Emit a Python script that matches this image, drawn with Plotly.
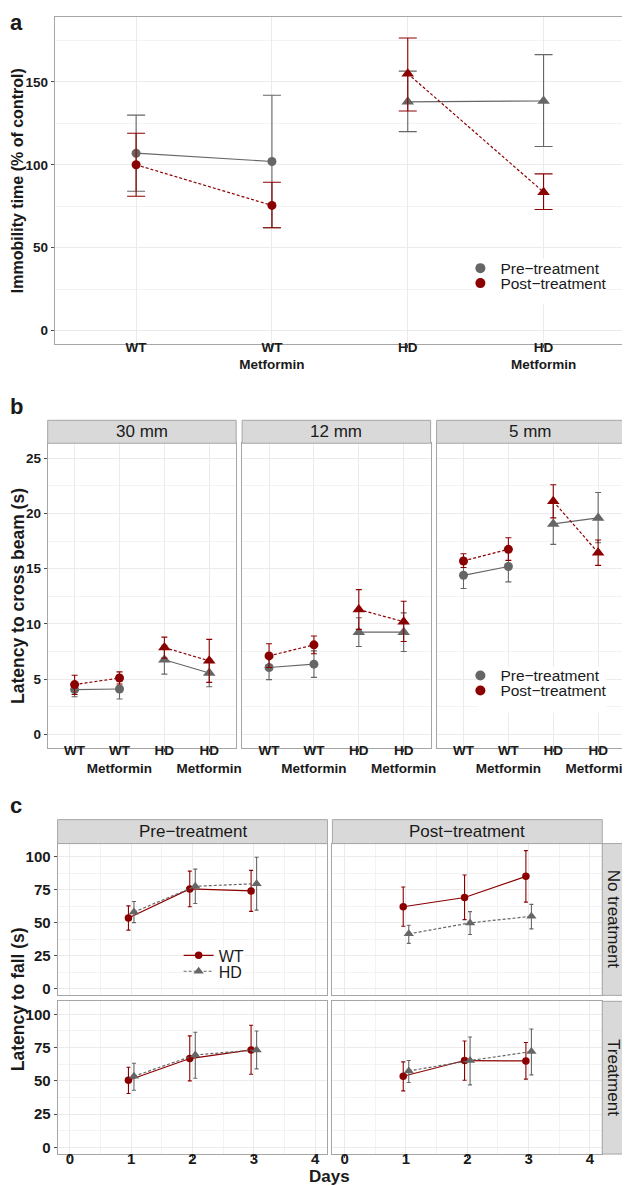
import plotly.graph_objects as go

W, H = 630, 1186
GREY = "#666666"
RED = "#8B0000"
INK = "#1A1A1A"
FRAME = "#A6A6A6"
GRID = "#EBEBEB"
GRID_MINOR = "#F3F3F3"
FONT = "Liberation Sans"

# ---------------- data ----------------
groups = ["WT", "WT<br>Metformin", "HD", "HD<br>Metformin"]
phases = ["Pre−treatment", "Post−treatment"]

# a) immobility time (% of control): mean, lower and upper error bar ends
a_pre = [107, 102, 138, 138.5]
a_pre_lo = [84, 62, 120, 111]
a_pre_hi = [130, 142, 156.5, 166.5]
a_post = [100, 75.5, 155, 83.5]
a_post_lo = [81, 62, 132.5, 73]
a_post_hi = [119, 89.5, 176.5, 94.5]

# b) latency to cross beam (s), one row per beam width
beams = ["30 mm", "12 mm", "5 mm"]
b_pre = [[4.05, 4.1, 6.75, 5.55], [6.05, 6.35, 9.25, 9.25], [14.4, 15.2, 19.05, 19.6]]
b_pre_lo = [[3.4, 3.2, 5.45, 4.3], [4.95, 5.15, 7.95, 7.5], [13.2, 13.8, 17.2, 17.35]]
b_pre_hi = [[4.7, 5.0, 8.05, 6.8], [7.15, 7.55, 10.55, 11.0], [15.55, 16.65, 20.9, 21.9]]
b_post = [[4.5, 5.1, 7.85, 6.65], [7.1, 8.1, 11.3, 10.2], [15.7, 16.75, 21.1, 16.45]]
b_post_lo = [[3.6, 4.55, 6.9, 4.7], [6.05, 7.3, 9.5, 8.4], [15.1, 15.75, 19.6, 15.3]]
b_post_hi = [[5.35, 5.65, 8.8, 8.6], [8.2, 8.9, 13.1, 12.05], [16.35, 17.8, 22.6, 17.6]]

# c) latency to fall (s); indexed [row][col]
days = [1, 2, 3]
c_cols = ["Pre−treatment", "Post−treatment"]
c_rows = ["No treatment", "Treatment"]
c_wt = [[[53.5, 75.5, 74], [62, 69, 85]], [[50.5, 66.8, 73.3], [53.5, 65.3, 65]]]
c_wt_lo = [[[44.3, 62, 58.5], [47.3, 52.3, 65.5]], [[40.5, 50, 55], [42.5, 50.5, 51.3]]]
c_wt_hi = [[[62.7, 89, 89.5], [77, 86, 104.5]], [[60.3, 83.8, 91.8], [64.3, 80, 78.8]]]
c_hd = [[[58, 77.5, 79.5], [41.5, 49.8, 54.8]], [[53.5, 69.5, 73.3], [57.5, 65.3, 72]]]
c_hd_lo = [[[50, 64.5, 59.5], [34.3, 41, 45.3]], [[43, 52, 59], [48.8, 47, 54.5]]]
c_hd_hi = [[[66, 90.5, 99.5], [48, 58.3, 63.8]], [[63.3, 86.5, 87.5], [65.3, 83, 89]]]
genotypes = ["WT", "HD"]
dodge = 0.045


def fx(px):
    return px / W


def fy(px):
    return 1 - px / H


def series(x, y, lo, hi, color, dash, symbol, size, cap, xa, ya):
    return go.Scatter(
        x=x, y=y, mode="lines+markers", xaxis=xa, yaxis=ya,
        line=dict(color=color, width=1.2, dash=dash),
        marker=dict(color=color, size=size, symbol=symbol),
        error_y=dict(type="data", symmetric=False,
                     array=[h - v for h, v in zip(hi, y)],
                     arrayminus=[v - l for v, l in zip(y, lo)],
                     color=color, thickness=1.1, width=cap),
        showlegend=False, hoverinfo="skip",
    )


def axis(domain, anchor, size=13.5, **kw):
    d = dict(domain=domain, anchor=anchor, showline=True, mirror=True,
             linecolor=FRAME, linewidth=1, showgrid=True, gridcolor=GRID,
             gridwidth=1, zeroline=False, ticks="outside", ticklen=3,
             tickwidth=1, tickcolor="#4D4D4D", fixedrange=True, tickangle=0,
             tickfont=dict(family=FONT, size=size, color=INK, weight="bold"))
    d.update(kw)
    return d


def note(text, xpx, ypx, size, weight="normal", angle=0, xanchor="center"):
    return dict(text=text, x=fx(xpx), y=fy(ypx), xref="paper", yref="paper",
                xanchor=xanchor, yanchor="middle", showarrow=False,
                textangle=angle,
                font=dict(family=FONT, size=size, color=INK, weight=weight))


fig = go.Figure()
layout = {}
shapes = []
notes = []

DOTTED = "3px,2px"
pairs = [(slice(0, 2), "circle"), (slice(2, 4), "triangle-up")]

# ---------- panel a ----------
for vals, lo, hi, color, dash in [(a_pre, a_pre_lo, a_pre_hi, GREY, "solid"),
                                  (a_post, a_post_lo, a_post_hi, RED, DOTTED)]:
    for sl, sym in pairs:
        fig.add_trace(series(groups[sl], vals[sl], lo[sl], hi[sl], color, dash,
                             sym, 9 if sym == "circle" else 11, 9, "x", "y"))

layout["xaxis"] = axis([fx(47), fx(622)], "y", type="category",
                       categoryorder="array", categoryarray=groups,
                       range=[-0.6, 3.6], ticklabelstandoff=-13)
layout["yaxis"] = axis([fy(337), fy(9)], "x", range=[-8.4, 189.2], dtick=50,
                       tick0=0, minor=dict(dtick=25, showgrid=True,
                                           gridcolor=GRID_MINOR, gridwidth=0.8))

# ---------- panel b ----------
b_x = [(40, 230), (236, 426), (432, 622)]
for i, beam in enumerate(beams):
    n = i + 2
    for vals, lo, hi, color, dash in [(b_pre, b_pre_lo, b_pre_hi, GREY, "solid"),
                                      (b_post, b_post_lo, b_post_hi, RED, DOTTED)]:
        for sl, sym in pairs:
            fig.add_trace(series(groups[sl], vals[i][sl], lo[i][sl], hi[i][sl],
                                 color, dash, sym, 9 if sym == "circle" else 11,
                                 3, f"x{n}", f"y{n}"))
    left, right = b_x[i]
    layout[f"xaxis{n}"] = axis([fx(left), fx(right)], f"y{n}", type="category",
                               categoryorder="array", categoryarray=groups,
                               range=[-0.6, 3.6], ticklabelstandoff=-13)
    extra = {} if i == 0 else dict(showticklabels=False, ticks="")
    layout[f"yaxis{n}"] = axis([fy(741), fy(436)], f"x{n}", range=[-1.22, 26.36],
                               dtick=5, tick0=0,
                               minor=dict(dtick=2.5, showgrid=True,
                                          gridcolor=GRID_MINOR, gridwidth=0.8),
                               **extra)
    shapes.append(dict(type="rect", xref="paper", yref="paper",
                       x0=fx(left), x1=fx(right), y0=fy(436), y1=fy(413),
                       fillcolor="#D9D9D9", line=dict(color=FRAME, width=1)))
    notes.append(note(beam, (left + right) / 2, 424.5, 17))

# ---------- panel c ----------
c_x = [(50, 322), (327, 599)]
c_y = [(837, 989), (995, 1148)]
for r in range(2):
    for c in range(2):
        n = 5 + r * 2 + c
        xa, ya = f"x{n}", f"y{n}"
        wt = series([d - dodge for d in days], c_wt[r][c], c_wt_lo[r][c],
                    c_wt_hi[r][c], RED, "solid", "circle", 7.5, 2, xa, ya)
        hd = series([d + dodge for d in days], c_hd[r][c], c_hd_lo[r][c],
                    c_hd_hi[r][c], GREY, DOTTED, "triangle-up", 9, 2, xa, ya)
        wt.name, hd.name = genotypes
        if r == 0 and c == 0:
            wt.update(showlegend=True, legend="legend5")
            hd.update(showlegend=True, legend="legend6")
        fig.add_trace(wt)
        fig.add_trace(hd)
        left, right = c_x[c]
        top, bottom = c_y[r]
        xextra = {} if r == 1 else dict(showticklabels=False, ticks="")
        yextra = {} if c == 0 else dict(showticklabels=False, ticks="")
        layout[f"xaxis{n}"] = axis([fx(left), fx(right)], ya, size=15,
                                   range=[-0.2, 4.2], dtick=1, tick0=0,
                                   ticklabelstandoff=-12,
                                   minor=dict(dtick=0.5, showgrid=True,
                                              gridcolor=GRID_MINOR, gridwidth=0.8),
                                   **xextra)
        layout[f"yaxis{n}"] = axis([fy(bottom), fy(top)], xa, size=15,
                                   range=[-5, 109.8], dtick=25, tick0=0,
                                   minor=dict(dtick=12.5, showgrid=True,
                                              gridcolor=GRID_MINOR, gridwidth=0.8),
                                   **yextra)

for c, label in enumerate(c_cols):
    left, right = c_x[c]
    shapes.append(dict(type="rect", xref="paper", yref="paper",
                       x0=fx(left), x1=fx(right), y0=fy(837), y1=fy(813),
                       fillcolor="#D9D9D9", line=dict(color=FRAME, width=1)))
    notes.append(note(label, (left + right) / 2, 825, 17))
for r, label in enumerate(c_rows):
    top, bottom = c_y[r]
    shapes.append(dict(type="rect", xref="paper", yref="paper",
                       x0=fx(599), x1=fx(622), y0=fy(bottom), y1=fy(top),
                       fillcolor="#D9D9D9", line=dict(color=FRAME, width=1)))
    notes.append(note(label, 610.5, (top + bottom) / 2, 17, angle=90))

# ---------- legends ----------
for k, (phase, color) in enumerate(zip(phases, [GREY, RED])):
    for leg, xa, ya in [(f"legend{'' if k == 0 else 2}", "x", "y"),
                        (f"legend{3 + k}", "x2", "y2")]:
        fig.add_trace(go.Scatter(x=[None], y=[None], mode="markers", name=phase,
                                 xaxis=xa, yaxis=ya, legend=leg,
                                 marker=dict(color=color, size=10, symbol="circle")))

leg_style = dict(xanchor="left", yanchor="middle", bgcolor="rgba(0,0,0,0)",
                 borderwidth=0, font=dict(family=FONT, size=15.5, color=INK))
leg_c = dict(leg_style, font=dict(family=FONT, size=16, color=INK))
layout["legend"] = dict(x=fx(456), y=fy(261), **leg_style)
layout["legend2"] = dict(x=fx(456), y=fy(276), **leg_style)
layout["legend3"] = dict(x=fx(456), y=fy(669), **leg_style)
layout["legend4"] = dict(x=fx(456), y=fy(684), **leg_style)
layout["legend5"] = dict(x=fx(172), y=fy(949), **leg_c)
layout["legend6"] = dict(x=fx(172), y=fy(965), **leg_c)

# white boxes behind the legends (hide grid lines like ggplot's legend background)
for x0, x1, y0, y1 in [(474, 603, 251, 297), (474, 603, 660, 706), (186, 238, 944, 982)]:
    shapes.append(dict(type="rect", xref="paper", yref="paper", layer="above",
                       x0=fx(x0), x1=fx(x1), y0=fy(y1), y1=fy(y0),
                       fillcolor="white", line=dict(width=0)))

# ---------- titles and panel letters ----------
for text, yc, size in [("Immobility time (% of control)", 173, 16),
                       ("Latency to cross beam (s)", 588.5, 17.5),
                       ("Latency to fall (s)", 992.5, 17.5)]:
    notes.append(note(text, 9.5, yc, size, weight="bold", angle=-90))
notes.append(note("Days", 324, 1170, 17, weight="bold"))
for letter, yc in [("a", 15), ("b", 399.5), ("c", 798.5)]:
    notes.append(note(letter, 0, yc, 22, weight="bold", xanchor="left"))

fig.update_layout(
    width=W, height=H, autosize=False,
    margin=dict(l=0, r=0, t=0, b=0),
    paper_bgcolor="white", plot_bgcolor="white",
    font=dict(family=FONT, color=INK),
    shapes=shapes, annotations=notes,
    **layout,
)

fig.write_html("out.html")
